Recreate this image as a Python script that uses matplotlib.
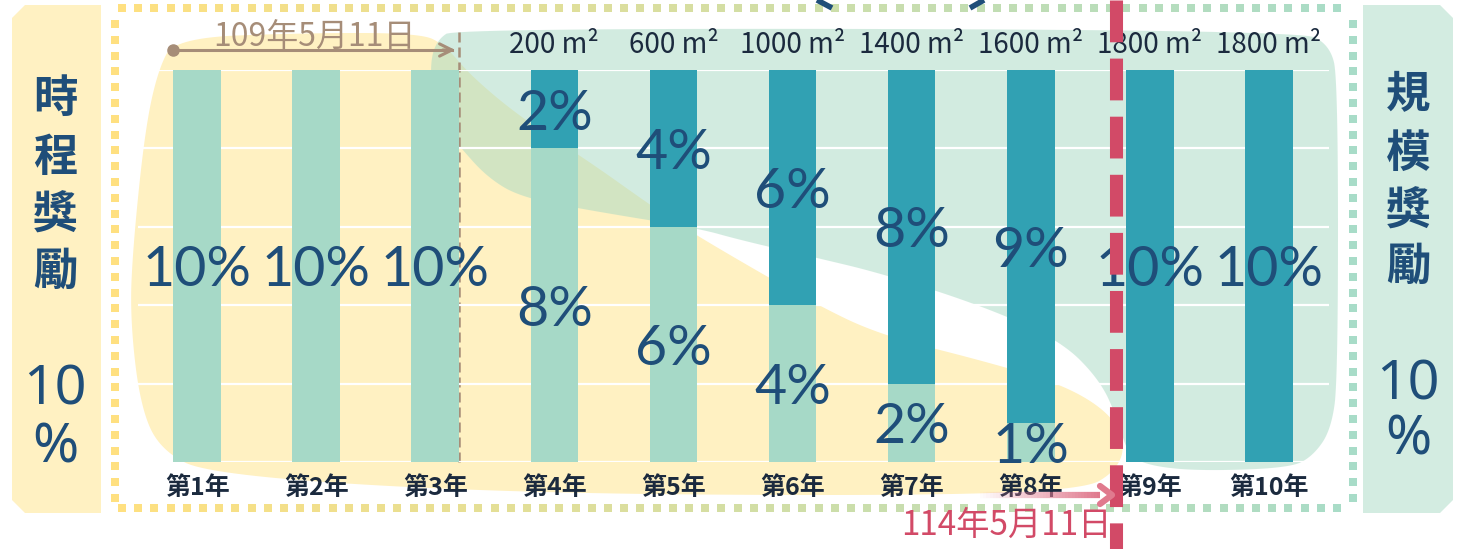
import matplotlib
matplotlib.use("Agg")
import matplotlib.pyplot as plt
import numpy as np
from matplotlib.collections import LineCollection
from matplotlib.patches import Polygon

plt.rcParams['font.family'] = ['Noto Sans CJK TC', 'DejaVu Sans']

years = ['第1年', '第2年', '第3年', '第4年', '第5年',
         '第6年', '第7年', '第8年', '第9年', '第10年']
schedule_pct = [10, 10, 10, 8, 6, 4, 2, 1, 0, 0]
scale_pct = [0, 0, 0, 2, 4, 6, 8, 9, 10, 10]
area_labels = ['', '', '', '200 m²', '600 m²', '1000 m²',
               '1400 m²', '1600 m²', '1800 m²', '1800 m²']

LIGHT = '#A6D9C7'
TEAL = '#31A1B3'
NAVY = '#1F4E79'
DARK = '#1B2A3E'
YELLOW_BG = '#FFF1C2'
GREEN_BG = '#D3ECE1'
RED = '#D24A67'
BROWN = '#A68D78'

W, H = 1460, 549


def smooth(pts, n=4):
    # corner cutting, gives the soft blob outlines
    pts = np.asarray(pts, float)
    for _ in range(n):
        q = np.roll(pts, -1, axis=0)
        a = 0.75 * pts + 0.25 * q
        b = 0.25 * pts + 0.75 * q
        out = np.empty((2 * len(pts), 2))
        out[0::2] = a
        out[1::2] = b
        pts = out
    return pts


fig = plt.figure(figsize=(W / 100, H / 100), dpi=100)

# background layer in pixel coords
bg = fig.add_axes([0, 0, 1, 1], zorder=0)
bg.set_xlim(0, W)
bg.set_ylim(H, 0)
bg.axis('off')

# side panels
bg.add_patch(Polygon([(12, 18), (25, 5), (101, 5), (101, 513), (25, 513), (12, 500)],
                     closed=True, fc=YELLOW_BG, ec='none'))
bg.add_patch(Polygon([(1363, 5), (1440, 5), (1453, 18), (1453, 500), (1440, 513), (1363, 513)],
                     closed=True, fc=GREEN_BG, ec='none'))

yellow_blob = [(175, 38), (300, 33), (420, 33), (445, 45), (470, 75), (520, 117),
               (587, 160), (653, 207), (697, 236), (813, 303), (880, 335),
               (980, 360), (1062, 384), (1110, 413), (1126, 445), (1115, 472),
               (1083, 490), (900, 496), (500, 493), (210, 475), (160, 450),
               (140, 405), (130, 317), (133, 246), (145, 130), (158, 70)]
green_blob = [(455, 28), (1300, 30), (1330, 45), (1338, 80), (1338, 380),
              (1331, 430), (1313, 456), (1290, 468), (1200, 471), (1150, 466),
              (1128, 455), (1118, 420), (1100, 380), (1060, 340), (980, 305),
              (880, 273), (813, 257), (740, 240), (697, 228), (587, 210),
              (520, 197), (487, 177), (460, 147), (445, 128), (433, 103),
              (430, 63), (437, 40)]
bg.add_patch(Polygon(smooth(yellow_blob), closed=True, fc=YELLOW_BG, ec='none'))
bg.add_patch(Polygon(smooth(green_blob), closed=True, fc='#A7D9C3', alpha=0.5, ec='none'))

# dotted frame, yellow to green
def frame_color(x):
    t = np.clip((x - 115) / (1353 - 115), 0, 1)[:, None]
    c0 = np.array([255, 224, 128]) / 255
    c1 = np.array([168, 220, 200]) / 255
    return c0 * (1 - t) + c1 * t

xs = np.arange(122, 1350, 16.2)
ys = np.arange(24, 500, 15.8)
for yy in (8, 508):
    bg.scatter(xs, np.full_like(xs, yy), marker='s', s=34, c=frame_color(xs), lw=0)
for xx in (115, 1353):
    pos = np.full_like(ys, xx)
    bg.scatter(pos, ys, marker='s', s=34, c=frame_color(pos), lw=0)

# side panel texts
for i, ch in enumerate('時程獎勵'):
    bg.text(55, [99, 158, 216, 272][i], ch, ha='center', va='center',
            fontsize=32, fontweight='bold', color=NAVY)
for i, ch in enumerate('規模獎勵'):
    bg.text(1408, [95, 154, 212, 267][i], ch, ha='center', va='center',
            fontsize=32, fontweight='bold', color=NAVY)
for xx, y10, ypc in ((55, 390, 448), (1408, 385, 440)):
    bg.text(xx, y10, '10', ha='center', va='center', fontsize=40, color=NAVY,
            family=['Noto Sans', 'DejaVu Sans'])
    bg.text(xx, ypc, '%', ha='center', va='center', fontsize=40, color=NAVY,
            family=['Noto Sans', 'DejaVu Sans'])

# brown start date marker
bg.plot([173, 452], [50, 50], color=BROWN, lw=2.2)
bg.plot(173, 50, 'o', color=BROWN, ms=8)
bg.annotate('', xy=(458, 50), xytext=(440, 50),
            arrowprops=dict(arrowstyle='->', color=BROWN, lw=2.2, mutation_scale=22))
bg.text(315, 38, '109年5月11日', ha='center', va='center', fontsize=23, color=BROWN)
bg.plot([459, 459], [32, 464], color=BROWN, lw=1.8, dashes=(4, 2))

# top partial strokes
bg.plot([817, 832], [0, 8], color=NAVY, lw=4, solid_capstyle='butt')
bg.plot([970, 984], [8, 0], color=NAVY, lw=4, solid_capstyle='butt')

# main chart
ax = fig.add_axes([137.5 / W, (H - 462) / H, 1191 / W, 392 / H], zorder=1)
ax.patch.set_alpha(0)
x = np.arange(len(years))
ax.bar(x, schedule_pct, width=0.4, color=LIGHT, zorder=2)
ax.bar(x, scale_pct, bottom=schedule_pct, width=0.4, color=TEAL, zorder=2)
ax.set_xlim(-0.5, len(years) - 0.5)
ax.set_ylim(0, 10)
ax.set_yticks(np.arange(0, 11, 2))
ax.yaxis.grid(True, color='white', lw=1.6, zorder=1)
ax.set_axisbelow(True)
ax.tick_params(axis='y', left=False, labelleft=False)
ax.set_xticks(x, years)
ax.tick_params(axis='x', length=0, pad=10, labelsize=18, labelcolor=DARK)
for lab in ax.get_xticklabels():
    lab.set_fontweight('bold')
for s in ax.spines.values():
    s.set_visible(False)

for i in range(len(years)):
    a, b = schedule_pct[i], scale_pct[i]
    if a > 0:
        ax.text(x[i], a / 2, f'{a}%', ha='center', va='center_baseline', fontsize=40,
                color=NAVY, family='Lato', zorder=3)
    if b > 0:
        ax.text(x[i], a + b / 2, f'{b}%', ha='center', va='center_baseline', fontsize=40,
                color=NAVY, family='Lato', zorder=3)
    if area_labels[i]:
        ax.annotate(area_labels[i], (x[i], 10), xytext=(0, 18), textcoords='offset points',
                    ha='center', va='center', fontsize=20, color=DARK)

# overlay: red cut-off line, arrow and date
top = fig.add_axes([0, 0, 1, 1], zorder=3)
top.set_xlim(0, W)
top.set_ylim(H, 0)
top.axis('off')
top.plot([1116, 1116], [0, H], color=RED, lw=9.4, dashes=(3.2, 1.25, 3.2, 1.25),
         solid_capstyle='butt', dash_capstyle='butt')
ax_x = np.linspace(977, 1100, 40)
segs = [[(ax_x[k], 495), (ax_x[k + 1], 495)] for k in range(len(ax_x) - 1)]
alphas = np.linspace(0.0, 1.0, len(segs))
cols = [(224 / 255, 122 / 255, 142 / 255, al) for al in alphas]
top.add_collection(LineCollection(segs, colors=cols, linewidths=4.5))
top.plot([1100, 1112, 1100], [486, 495, 504], color='#E07A8E', lw=4.5,
         solid_capstyle='round', solid_joinstyle='round')
top.text(1006, 525, '114年5月11日', ha='center', va='center', fontsize=24, color=RED)

fig.savefig('out.png', dpi=100)
